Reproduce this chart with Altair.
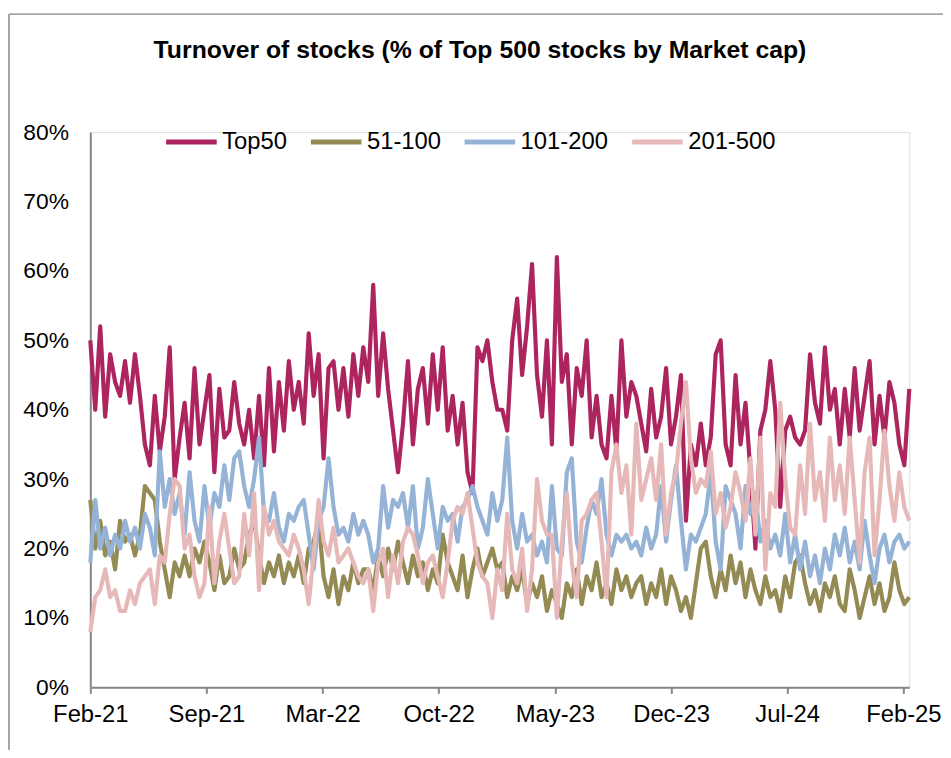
import altair as alt
import pandas as pd

series_names = ["Top50", "51-100", "101-200", "201-500"]
series_colors = ["#AD255E", "#948A54", "#95B3D7", "#E6B9B8"]
tick_labels = ["Feb-21", "Sep-21", "Mar-22", "Oct-22", "May-23", "Dec-23", "Jul-24", "Feb-25"]
chart_title = "Turnover of stocks (% of Top 500 stocks by Market cap)"

top50 = [
    50, 40, 52, 39, 48, 44, 42, 47, 41, 48, 42, 35, 32, 42, 34, 39, 49, 30, 36, 41, 33, 46, 35, 40, 45, 31, 43, 36,
    37, 44, 38, 35, 40, 33, 42, 32, 46, 34, 44, 37, 47, 40, 44, 38, 51, 42, 48, 33, 46, 47, 40, 46, 39, 48, 42, 49,
    44, 58, 42, 51, 43, 37, 31, 38, 47, 35, 43, 46, 38, 48, 40, 49, 37, 42, 35, 41, 31, 28, 49, 47, 50, 44, 40,
    40, 37, 50, 56, 45, 52, 61, 45, 39, 50, 35, 62, 44, 48, 35, 46, 42, 50, 36, 42, 35, 33, 42, 34, 50, 39, 44, 42,
    38, 34, 43, 36, 39, 46, 35, 39, 45, 24, 35, 32, 38, 32, 36, 48, 50, 35, 32, 45, 35, 41, 31, 20, 37, 40, 47,
    40, 26, 37, 39, 36, 35, 37, 48, 41, 38, 49, 40, 43, 35, 43, 36, 46, 37, 42, 47, 35, 42, 36, 44, 41, 35, 32, 43,
]
s51_100 = [
    27, 20, 24, 19, 21, 17, 24, 21, 22, 19, 22, 29, 28, 27, 21, 17, 13, 18, 16, 19, 16, 20, 18, 21, 18, 14, 19, 15,
    16, 20, 17, 18, 22, 24, 19, 15, 18, 16, 19, 15, 18, 16, 19, 15, 20, 21, 24, 16, 13, 17, 12, 16, 14, 18, 15, 17,
    17, 14, 19, 16, 20, 17, 21, 18, 15, 19, 16, 18, 14, 17, 15, 22, 18, 16, 14, 19, 13, 17, 20, 16, 18, 20, 17,
    18, 13, 16, 14, 17, 12, 15, 13, 16, 11, 14, 12, 10, 15, 13, 17, 12, 16, 14, 18, 13, 15, 12, 17, 14, 16, 13, 15,
    16, 12, 15, 13, 17, 12, 16, 14, 11, 13, 10, 15, 20, 21, 16, 13, 17, 14, 19, 15, 18, 13, 17, 14, 12, 16, 13,
    14, 11, 16, 13, 18, 19, 15, 12, 14, 11, 15, 13, 16, 12, 11, 17, 14, 10, 13, 16, 12, 15, 11, 13, 18, 14, 12, 13,
]
s101_200 = [
    18, 27, 20, 23, 19, 22, 20, 24, 21, 23, 20, 25, 23, 19, 34, 26, 30, 25, 28, 22, 31, 24, 21, 29, 23, 28, 26, 32,
    27, 33, 34, 29, 26, 30, 36, 25, 24, 28, 23, 21, 25, 24, 26, 27, 22, 17, 24, 26, 33, 26, 22, 23, 21, 25, 22, 24,
    22, 18, 20, 29, 23, 27, 26, 28, 23, 29, 20, 23, 30, 25, 20, 26, 24, 25, 21, 26, 27, 29, 26, 24, 22, 28, 24,
    27, 36, 24, 20, 25, 21, 22, 19, 21, 18, 29, 20, 19, 31, 33, 21, 18, 23, 27, 25, 30, 22, 19, 22, 21, 22, 20, 21,
    19, 23, 20, 22, 29, 21, 27, 32, 24, 17, 22, 21, 23, 25, 31, 21, 17, 29, 27, 25, 20, 29, 25, 28, 21, 24, 20,
    22, 19, 25, 18, 22, 17, 21, 16, 19, 15, 20, 17, 22, 19, 23, 18, 21, 17, 24, 19, 15, 20, 22, 18, 21, 22, 20, 21,
]
s201_500 = [
    8, 13, 14, 17, 13, 14, 11, 11, 14, 12, 15, 16, 17, 12, 19, 18, 25, 30, 29, 20, 22, 16, 13, 15, 26, 15, 21, 25,
    20, 15, 16, 25, 19, 28, 14, 26, 22, 24, 21, 20, 19, 22, 20, 17, 12, 19, 27, 21, 19, 23, 18, 19, 20, 18, 16, 15,
    17, 11, 18, 20, 13, 19, 15, 21, 23, 22, 19, 15, 18, 19, 16, 13, 18, 24, 26, 25, 28, 23, 18, 16, 15, 10, 17,
    14, 25, 17, 15, 20, 11, 17, 30, 24, 22, 22, 10, 21, 28, 18, 13, 24, 25, 27, 28, 21, 13, 31, 35, 28, 32, 22, 38,
    27, 30, 33, 27, 35, 22, 28, 31, 38, 44, 33, 28, 30, 29, 34, 25, 28, 23, 26, 31, 28, 24, 33, 22, 36, 17, 28,
    26, 41, 30, 23, 22, 32, 25, 38, 27, 31, 24, 36, 27, 32, 25, 36, 27, 18, 31, 36, 19, 27, 37, 29, 24, 31, 26, 24,
]

all_series = [top50, s51_100, s101_200, s201_500]
rows = []
for k, (name, vals) in enumerate(zip(series_names, all_series)):
    for i, v in enumerate(vals):
        rows.append({"i": i, "value": v, "series": name, "order": k})
df = pd.DataFrame(rows)

n = len(top50)
tick_step = 23.4
tick_vals = [round(k * tick_step, 2) for k in range(len(tick_labels))]
label_arr = "[" + ",".join("'" + t + "'" for t in tick_labels) + "]"

FONT = "Liberation Sans"
AX = "#868686"

lines = alt.Chart(df).mark_line(strokeWidth=4.2, strokeJoin="round").encode(
    x=alt.X("i:Q", scale=alt.Scale(domain=[0, n - 1], nice=False, zero=False),
            axis=alt.Axis(values=tick_vals, labelExpr=label_arr + "[round(datum.value/" + str(tick_step) + ")]",
                          title=None, grid=False, domainColor=AX, domainWidth=2, tickColor=AX, tickWidth=2,
                          tickSize=6, labelPadding=9, labelFontSize=24, labelColor="black", labelFont=FONT,
                          labelOverlap=False, labelFlush=False)),
    y=alt.Y("value:Q", scale=alt.Scale(domain=[0, 80], nice=False),
            axis=alt.Axis(values=list(range(0, 81, 10)), labelExpr="datum.value + '%'", title=None, grid=False,
                          domainColor=AX, domainWidth=2, ticks=False, labelPadding=22, labelFontSize=23,
                          labelColor="black", labelFont=FONT)),
    color=alt.Color("series:N", scale=alt.Scale(domain=series_names, range=series_colors),
                    legend=alt.Legend(orient="none", legendX=74, legendY=-18, direction="horizontal", columns=4,
                                      title=None, symbolType="stroke", symbolStrokeWidth=5, symbolSize=2600,
                                      labelFontSize=24, labelFont=FONT, labelColor="black", labelOffset=3,
                                      columnPadding=13)),
    order=alt.Order("order:Q"),
    detail="series:N",
)

one = pd.DataFrame({"t": [chart_title]})
title_mark = alt.Chart(one).mark_text(fontSize=25, fontWeight="bold", font=FONT, color="black",
                                      align="center", baseline="middle").encode(
    text="t:N", x=alt.value(393), y=alt.value(-83)
)
border = alt.Chart(one).mark_rule(color="#A6A6A6", strokeWidth=2).encode(
    x=alt.value(-82), x2=alt.value(-82), y=alt.value(-119), y2=alt.value(700)
)
border_top = alt.Chart(one).mark_rule(color="#A6A6A6", strokeWidth=2).encode(
    x=alt.value(-82), x2=alt.value(900), y=alt.value(-119), y2=alt.value(-119)
)

chart = alt.layer(border, border_top, title_mark, lines).properties(
    width=826, height=560,
    autosize=alt.AutoSizeParams(type="none"),
    padding={"left": 83, "top": 122, "right": 34, "bottom": 60},
).configure_view(stroke=None).configure(background="white")

chart.save("out.html", embed_options={"renderer": "svg", "actions": False})
